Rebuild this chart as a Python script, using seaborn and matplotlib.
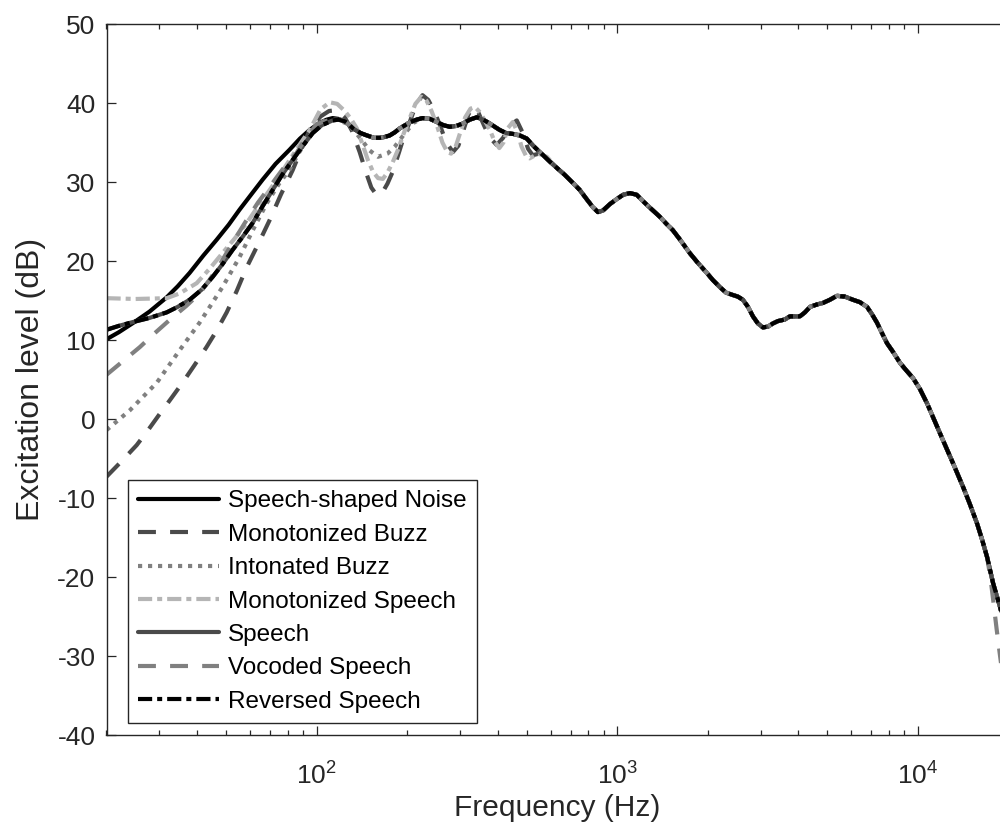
import numpy as np
import pandas as pd
import matplotlib
matplotlib.use("Agg")
import matplotlib.pyplot as plt
import seaborn as sns
from matplotlib.ticker import LogLocator, NullFormatter

# ---------------- data ----------------
# Speech-shaped noise, low-frequency part
SSN_LOW_FREQ = [20, 22, 24.6, 27.8, 31.7, 34.5, 37.8, 42, 46.5, 51, 55.4, 60.5,
                66.1, 73, 81.3, 88, 94.8, 102.3, 108, 113, 118]
SSN_LOW_LEVEL = [10.1, 11.0, 12.2, 13.6, 15.4, 16.8, 18.5, 20.7, 22.7, 24.6, 26.5,
                 28.4, 30.3, 32.3, 34.1, 35.5, 36.6, 37.5, 37.9, 38.1, 38.0]

# Speech / reversed speech, low-frequency part
SPEECH_LOW_FREQ = [20, 22, 24.6, 27.8, 31.7, 34.5, 37.8, 41.5, 45.1, 48.6, 52.5,
                   56.8, 61.2, 66, 71.4, 77, 83.2, 90, 97, 104, 113, 118]
SPEECH_LOW_LEVEL = [11.3, 11.8, 12.3, 12.8, 13.5, 14.2, 15.1, 16.4, 18.0, 19.6,
                    21.4, 23.1, 24.8, 26.9, 29.0, 31.0, 32.8, 34.6, 36.2, 37.2,
                    37.8, 37.9]

# Vocoded speech, low-frequency part
VOC_LOW_FREQ = [20, 22.8, 25.8, 29, 33, 36.8, 40.8, 44, 47.5, 52.5, 58.5, 63.8,
                69.8, 77, 85.8, 92, 100, 110, 118]
VOC_LOW_LEVEL = [5.6, 7.4, 9.1, 10.9, 12.8, 14.3, 15.9, 17.6, 19.5, 22.3, 25.2,
                 27.4, 29.4, 31.6, 33.7, 35.6, 37.3, 38.0, 38.0]

# Smooth middle section shared by SSN, speech, reversed and vocoded speech
MID_FREQ = [124, 128, 132, 140, 147, 155, 162, 168, 175, 182, 189, 197, 205, 215,
            225, 238, 251, 264, 277, 291, 306, 323, 341, 358, 377, 391, 406, 427,
            449, 474, 500, 525, 552, 574, 596]
MID_LEVEL = [37.7, 37.3, 36.8, 36.2, 35.9, 35.6, 35.6, 35.7, 35.9, 36.3, 36.8,
             37.2, 37.6, 37.9, 38.1, 38.0, 37.6, 37.2, 37.0, 37.1, 37.4, 37.9,
             38.2, 37.9, 37.4, 37.0, 36.6, 36.2, 36.1, 35.9, 35.5, 34.6, 33.8,
             33.2, 32.6]

# Intonated buzz (up to where it merges with the smooth middle section)
IB_FREQ = [20, 23.9, 29.4, 35, 40.8, 48.6, 55.4, 61.5, 68.2, 75, 81.3, 87, 92.6,
           98.5, 105, 111, 117, 128, 140, 150, 160, 172, 182, 195, 210, 225]
IB_LEVEL = [-1.4, 1.1, 4.6, 8.7, 12.2, 16.7, 20.5, 24.0, 27.3, 29.8, 31.6, 33.6,
            35.3, 36.6, 37.6, 37.9, 37.9, 37.3, 35.5, 34.0, 33.2, 33.6, 34.5,
            36.0, 37.5, 38.1]

# Monotonized speech (low and harmonic section)
MS_FREQ = [20, 25, 31.7, 35, 39.9, 44, 48.6, 53.5, 58.5, 64, 69.8, 75.5, 81.3,
           88, 94.8, 103, 110.5, 117, 124, 130, 136, 142, 148, 154, 160, 166,
           172, 179, 186, 195, 204, 213, 223, 232, 241, 251, 262, 272, 280, 290,
           300, 312, 325, 336, 350, 362, 377, 390, 405, 418, 432, 449, 465, 480,
           497, 511, 545, 583]
MS_LEVEL = [15.3, 15.2, 15.3, 15.9, 17.2, 19.0, 21.0, 22.9, 24.8, 27.0, 29.0,
            30.9, 32.8, 34.8, 36.6, 39.2, 40.1, 39.9, 39.0, 38.0, 36.8, 34.8,
            32.8, 31.3, 30.5, 30.4, 31.2, 32.5, 34.0, 36.2, 38.1, 39.9, 40.8,
            40.3, 39.0, 37.2, 35.0, 33.8, 33.6, 34.5, 36.2, 38.2, 39.3, 39.5,
            38.8, 37.8, 36.6, 35.2, 34.3, 35.0, 36.8, 37.6, 36.4, 34.5, 33.3,
            33.0, 33.6, 33.2]

# Monotonized buzz (low and harmonic section)
MB_FREQ = [20, 22.5, 25.2, 27.5, 30, 32.8, 35.8, 39.2, 43, 46.5, 50.2, 54.2,
           58.5, 64, 69.8, 76, 83.2, 89, 94.8, 103, 110, 117, 124, 131, 139,
           146, 152, 158, 165, 172, 179, 188, 196, 204, 214, 225, 235, 246, 257,
           270, 284, 296, 308, 320, 332, 345, 360, 377, 397, 417, 440, 463, 485,
           505, 523, 550, 583]
MB_LEVEL = [-7.3, -5.3, -3.3, -1.4, 0.6, 2.6, 4.6, 6.8, 9.1, 11.2, 13.5, 16.2,
            19.2, 22.2, 25.2, 28.4, 31.5, 34.2, 36.6, 38.3, 39.0, 39.1, 38.2,
            36.5, 33.8, 31.2, 29.3, 28.4, 28.6, 29.8, 31.3, 33.8, 36.0, 37.6,
            39.8, 41.0, 40.4, 39.0, 37.2, 35.0, 33.8, 34.6, 36.6, 38.6, 39.5,
            38.8, 37.2, 35.6, 34.7, 35.6, 37.2, 37.8, 36.2, 34.2, 33.4, 33.6,
            33.0]

# High-frequency section shared by all conditions
HIGH_FREQ = [629, 669, 711, 750, 792, 830, 862, 896, 944, 1000, 1047, 1101, 1159,
             1216, 1280, 1385, 1457, 1530, 1610, 1742, 1850, 1985, 2078, 2193,
             2300, 2423, 2516, 2616, 2720, 2825, 2935, 3050, 3169, 3292, 3420,
             3605, 3750, 3896, 4048, 4206, 4375, 4610, 4831, 5093, 5376, 5709,
             6077, 6405, 6767, 7022, 7305, 7587, 7887, 8260, 8717, 9170, 9623,
             10150, 10715, 11380, 12115, 13080, 14125, 14890]
HIGH_LEVEL = [31.8, 30.9, 29.9, 29.0, 27.8, 26.8, 26.2, 26.4, 27.2, 27.9, 28.4,
              28.6, 28.4, 27.6, 26.8, 25.6, 24.7, 23.9, 22.8, 21.0, 19.8, 18.5,
              17.6, 16.7, 16.0, 15.7, 15.5, 15.1, 14.2, 13.0, 12.1, 11.6, 11.7,
              12.1, 12.4, 12.6, 13.0, 13.0, 13.0, 13.5, 14.2, 14.5, 14.7, 15.1,
              15.6, 15.5, 15.1, 14.8, 14.2, 13.3, 12.2, 10.9, 9.6, 8.5, 7.1, 6.1,
              5.2, 3.8, 2.0, -0.3, -2.7, -5.6, -8.6, -10.8]

# Top end
TAIL_FREQ = [15713, 16320, 16982, 17780, 18750, 20000]
TAIL_LEVEL = [-13.2, -15.2, -17.5, -20.8, -23.8, -28.0]
VOC_TAIL_FREQ = [15713, 16320, 16982, 17400, 17800, 18250, 18750, 20000]
VOC_TAIL_LEVEL = [-13.2, -15.2, -17.5, -20.0, -23.0, -26.5, -30.0, -38.0]

SERIES = ["Speech-shaped Noise", "Monotonized Buzz", "Intonated Buzz",
          "Monotonized Speech", "Speech", "Vocoded Speech", "Reversed Speech"]

# ---------------- assemble ----------------
def join(*parts):
    f, l = [], []
    for i in range(0, len(parts), 2):
        f += list(parts[i])
        l += list(parts[i + 1])
    return f, l

mid_after = [i for i, fr in enumerate(MID_FREQ) if fr > IB_FREQ[-1]]
IB_MID_FREQ = [MID_FREQ[i] for i in mid_after]
IB_MID_LEVEL = [MID_LEVEL[i] for i in mid_after]

curves = {
    "Speech-shaped Noise": join(SSN_LOW_FREQ, SSN_LOW_LEVEL, MID_FREQ, MID_LEVEL,
                                HIGH_FREQ, HIGH_LEVEL, TAIL_FREQ, TAIL_LEVEL),
    "Monotonized Buzz": join(MB_FREQ, MB_LEVEL, HIGH_FREQ, HIGH_LEVEL,
                             TAIL_FREQ, TAIL_LEVEL),
    "Intonated Buzz": join(IB_FREQ, IB_LEVEL, IB_MID_FREQ, IB_MID_LEVEL,
                           HIGH_FREQ, HIGH_LEVEL, TAIL_FREQ, TAIL_LEVEL),
    "Monotonized Speech": join(MS_FREQ, MS_LEVEL, HIGH_FREQ, HIGH_LEVEL,
                               TAIL_FREQ, TAIL_LEVEL),
    "Speech": join(SPEECH_LOW_FREQ, SPEECH_LOW_LEVEL, MID_FREQ, MID_LEVEL,
                   HIGH_FREQ, HIGH_LEVEL, TAIL_FREQ, TAIL_LEVEL),
    "Vocoded Speech": join(VOC_LOW_FREQ, VOC_LOW_LEVEL, MID_FREQ, MID_LEVEL,
                           HIGH_FREQ, HIGH_LEVEL, VOC_TAIL_FREQ, VOC_TAIL_LEVEL),
    "Reversed Speech": join(SPEECH_LOW_FREQ, SPEECH_LOW_LEVEL, MID_FREQ, MID_LEVEL,
                            HIGH_FREQ, HIGH_LEVEL, TAIL_FREQ, TAIL_LEVEL),
}

DASHED = (0, (4.3, 3.4))
DOTTED = (0, (1.0, 1.4))
DASHDOT = (0, (3.4, 1.2, 1.2, 1.2))
styles = {
    "Speech-shaped Noise": ("#000000", "-"),
    "Monotonized Buzz": ("#4a4a4a", DASHED),
    "Intonated Buzz": ("#808080", DOTTED),
    "Monotonized Speech": ("#b5b5b5", DASHDOT),
    "Speech": ("#4a4a4a", "-"),
    "Vocoded Speech": ("#808080", DASHED),
    "Reversed Speech": ("#000000", DASHDOT),
}

# ---------------- plot ----------------
sns.set_theme(style="white")
plt.rcParams["font.family"] = ["Liberation Sans", "DejaVu Sans"]
plt.rcParams["axes.unicode_minus"] = False
plt.rcParams["mathtext.fontset"] = "custom"
plt.rcParams["mathtext.rm"] = "Liberation Sans"
plt.rcParams["mathtext.it"] = "Liberation Sans:italic"

fig = plt.figure(figsize=(10, 8.27), dpi=100)
ax = fig.add_axes([0.1065, 0.1112, 0.902, 0.8597])

for name in SERIES:
    f, l = curves[name]
    df = pd.DataFrame({"freq": f, "level": l})
    color, ls = styles[name]
    sns.lineplot(data=df, x="freq", y="level", ax=ax, estimator=None, sort=False,
                 color=color, linewidth=3, linestyle=ls, label=name,
                 legend=False)

ax.set_xscale("log")
ax.set_xlim(20, 20000)
ax.set_ylim(-40, 50)
ax.set_yticks(np.arange(-40, 51, 10))
ax.xaxis.set_major_locator(LogLocator(base=10, numticks=10))
ax.xaxis.set_minor_locator(LogLocator(base=10, subs=np.arange(2, 10), numticks=40))
ax.xaxis.set_minor_formatter(NullFormatter())
ax.set_xlabel("Frequency (Hz)", fontsize=21.5, color="#262626", labelpad=3)
ax.set_ylabel("Excitation level (dB)", fontsize=23, color="#262626", labelpad=8)

ax.tick_params(which="both", direction="in", bottom=True, left=True, top=True,
               right=True, colors="#262626", labelsize=19)
ax.tick_params(which="major", length=6.5, width=0.9)
ax.tick_params(axis="y", which="major", pad=8)
ax.tick_params(axis="x", which="major", pad=20)
ax.tick_params(which="minor", length=3.3, width=0.9)
for sp in ax.spines.values():
    sp.set_color("#262626")
    sp.set_linewidth(1.0)
    sp.set_visible(True)

leg = ax.legend(loc="lower left", bbox_to_anchor=(0.0238, 0.0169),
                borderaxespad=0, fontsize=17.5, handlelength=3.33,
                handletextpad=0.37, labelspacing=0.47, borderpad=0.42,
                fancybox=False, framealpha=1, edgecolor="#262626")
leg.get_frame().set_linewidth(1.0)
for t in leg.get_texts():
    t.set_color("#000000")

fig.savefig("out.png", dpi=100)
